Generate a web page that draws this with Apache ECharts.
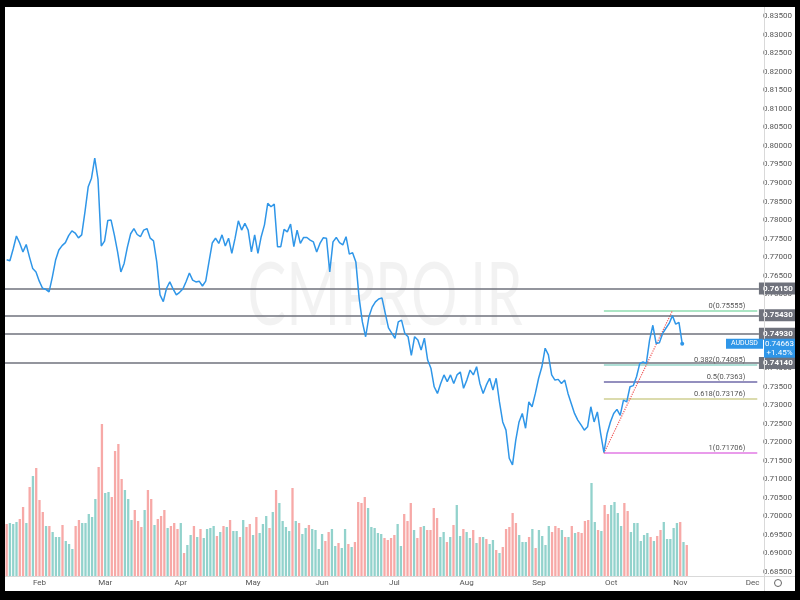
<!DOCTYPE html>
<html><head><meta charset="utf-8">
<script src="https://cdn.jsdelivr.net/npm/echarts@6/dist/echarts.min.js"></script>
<style>
html,body{margin:0;padding:0;background:#000;width:800px;height:600px;overflow:hidden}
#frame{position:absolute;left:5px;top:7px;width:790px;height:584px;background:#fff}
#chart{width:790px;height:584px}
</style></head><body>
<div id="frame"><div id="chart"></div></div>
<script>
// ---------------- DATA ----------------
const symbol = 'AUDUSD';
const startDate = '2021-01-18';   // first daily bar (weekdays only)
const barCount = 231;             // bars on the time axis (through early Dec)
const monthNames = ['Jan','Feb','Mar','Apr','May','Jun','Jul','Aug','Sep','Oct','Nov','Dec'];

const closes = [
0.7693,0.7690,0.7722,0.7757,0.7738,0.7714,0.7734,0.7700,0.7669,0.7660,
0.7635,0.7616,0.7613,0.7606,0.7646,0.7692,0.7719,0.7731,0.7739,0.7758,
0.7771,0.7765,0.7752,0.7760,0.7822,0.7890,0.7913,0.7967,0.7910,0.7730,
0.7743,0.7799,0.7800,0.7760,0.7714,0.7660,0.7683,0.7727,0.7763,0.7777,
0.7761,0.7755,0.7773,0.7777,0.7751,0.7744,0.7687,0.7598,0.7580,0.7616,
0.7633,0.7614,0.7598,0.7605,0.7614,0.7634,0.7657,0.7638,0.7633,0.7635,
0.7622,0.7635,0.7687,0.7738,0.7751,0.7737,0.7760,0.7730,0.7751,0.7710,
0.7751,0.7798,0.7773,0.7791,0.7773,0.7714,0.7760,0.7710,0.7755,0.7787,
0.7845,0.7836,0.7843,0.7728,0.7728,0.7775,0.7768,0.7789,0.7728,0.7773,
0.7737,0.7753,0.7753,0.7746,0.7741,0.7714,0.7737,0.7752,0.7751,0.7660,
0.7741,0.7753,0.7739,0.7733,0.7755,0.7708,0.7712,0.7687,0.7590,0.7525,
0.7485,0.7539,0.7565,0.7579,0.7587,0.7590,0.7549,0.7509,0.7495,0.7481,
0.7525,0.7530,0.7494,0.7485,0.7435,0.7485,0.7476,0.7449,0.7481,0.7422,
0.7400,0.7350,0.7332,0.7359,0.7382,0.7364,0.7382,0.7359,0.7382,0.7390,
0.7346,0.7368,0.7395,0.7382,0.7404,0.7359,0.7332,0.7355,0.7373,0.7341,
0.7373,0.7309,0.7255,0.7233,0.7157,0.7139,0.7206,0.7255,0.7278,0.7238,
0.7309,0.7296,0.7332,0.7373,0.7404,0.7454,0.7436,0.7382,0.7368,0.7370,
0.7359,0.7368,0.7332,0.7305,0.7278,0.7260,0.7247,0.7233,0.7242,0.7296,
0.7255,0.7282,0.7224,0.7173,0.7224,0.7255,0.7278,0.7289,0.7273,0.7314,
0.7309,0.7350,0.7353,0.7377,0.7413,0.7417,0.7413,0.7476,0.7516,0.7467,
0.7469,0.7494,0.7508,0.7521,0.7542,0.7519,0.7524,0.74663
];

const volumes = [
52,53,52,54,57,69,53,89,100,108,
76,64,50,50,44,39,39,51,35,32,
27,50,56,53,53,62,59,77,109,152,
83,84,79,125,132,97,86,77,56,66,
55,49,66,86,77,51,57,60,66,48,
50,53,47,53,23,31,41,50,39,47,
38,47,48,50,40,44,50,49,56,45,
45,39,56,49,52,41,59,43,52,60,
48,64,86,73,55,49,45,88,55,53,
42,48,51,47,46,27,42,35,44,47,
30,33,28,47,32,29,34,74,73,79,
68,49,48,43,42,38,36,38,41,52,
30,62,55,73,46,38,49,50,46,46,
68,58,39,44,34,39,51,71,40,47,
44,38,46,33,39,39,37,32,36,26,
23,29,47,49,63,53,41,34,34,39,
47,28,46,40,31,50,44,50,48,46,
39,39,50,43,44,43,55,56,
93,54,46,45,71,62,71,74,63,50,
73,65,44,53,53,35,41,43,39,35,
40,46,54,37,37,48,53,54,34,31
];

// 1 = up bar (teal), 0 = down bar (red)
const volumeUp = [
0,1,1,1,0,0,1,0,1,0,
0,0,1,0,1,1,1,0,1,1,
1,0,0,1,1,1,1,1,0,0,
1,1,0,0,0,0,1,1,1,0,
0,0,1,0,0,1,0,0,0,1,
0,0,0,1,0,1,1,0,1,0,
1,1,1,1,0,1,0,1,0,1,
1,0,1,0,0,1,0,1,1,1,
0,1,0,1,1,1,1,0,1,0,
1,1,0,1,1,1,1,0,0,1,
1,0,1,1,0,1,0,0,0,0,
1,1,1,1,1,0,0,0,0,1,
1,0,0,0,1,0,0,1,0,0,
0,0,1,1,0,1,0,1,1,0,
1,1,0,1,0,1,0,1,1,0,
1,0,0,0,0,0,1,1,1,0,
1,0,1,1,1,1,0,0,0,1,
0,1,0,1,0,0,0,0,
1,1,0,1,0,0,1,1,1,1,
0,0,1,1,1,1,1,1,0,1,
0,0,1,1,1,1,1,0,1,0
];

const hLevels = [0.7615, 0.7543, 0.7493, 0.7414];
const hLevelLabels = ['0.76150', '0.75430', '0.74930', '0.74140'];

const fibLevels = [0.75555, 0.74085, 0.7363, 0.73176, 0.71706];
const fibLabels = ['0(0.75555)', '0.382(0.74085)', '0.5(0.7363)', '0.618(0.73176)', '1(0.71706)'];
const fibStartBar = 183;          // swing low bar
const trendFrom = [183, 0.71706];
const trendTo = [204, 0.75555];

const lastPrice = 0.74663;
const changeText = '+1.45%';
const hiddenPriceTicks = ['0.75500', '0.75000', '0.74500'];
const watermark = 'CMPRO.IR';

// ---------------- CHART ----------------
const dates = [];
(function () {
  const d = new Date(startDate + 'T00:00:00Z');
  while (dates.length < barCount) {
    const wd = d.getUTCDay();
    if (wd !== 0 && wd !== 6) dates.push(d.toISOString().slice(0, 10));
    d.setUTCDate(d.getUTCDate() + 1);
  }
})();
function isMonthStart(i) {
  return i > 0 && dates[i].slice(5, 7) !== dates[i - 1].slice(5, 7);
}

const FONT = "'Liberation Sans Narrow', Roboto, 'Noto Sans', sans-serif";
const LINE_BLUE = '#2f96e8';
const fibColors = ['#8fdcb0', '#93d4c8', '#6f6aa8', '#cfcf92', '#e27ae4'];
const UP = '#92d2cc', DOWN = '#f7a9a7';
const TAG = '#6f727c';

const W = 790, H = 584;
const axisX = 759, timeY = 569;

const chart = echarts.init(document.getElementById('chart'), null, { renderer: 'canvas' });

const option = {
  animation: false,
  backgroundColor: '#fff',
  textStyle: { fontFamily: FONT },
  grid: [
    { left: 0, right: W - axisX, top: 9.3, bottom: 19 },
    { left: 0, right: W - axisX, top: 369, bottom: H - timeY }
  ],
  xAxis: [
    { type: 'category', gridIndex: 0, data: dates, boundaryGap: true, show: false },
    {
      type: 'category', gridIndex: 1, data: dates, boundaryGap: true,
      axisLine: { show: false }, axisTick: { show: false }, splitLine: { show: false },
      axisLabel: {
        interval: (i) => isMonthStart(i),
        formatter: (v) => monthNames[parseInt(v.slice(5, 7), 10) - 1],
        fontSize: 8, color: '#555', margin: 3, fontFamily: FONT
      }
    }
  ],
  yAxis: [
    {
      type: 'value', gridIndex: 0, position: 'right', min: 0.685, max: 0.835, interval: 0.005,
      axisLine: { show: false }, axisTick: { show: false }, splitLine: { show: false },
      axisLabel: {
        fontSize: 8, color: '#555', margin: 4, fontFamily: FONT,
        formatter: (v) => { const s = v.toFixed(5); return hiddenPriceTicks.includes(s) ? '' : s; }
      }
    },
    { type: 'value', gridIndex: 1, min: 0, max: 200, show: false }
  ],
  series: [
    {
      type: 'bar', xAxisIndex: 1, yAxisIndex: 1, barWidth: '70%', z: 1,
      data: volumes.map((v, i) => ({ value: v, itemStyle: { color: volumeUp[i] ? UP : DOWN } }))
    },
    {
      type: 'line', xAxisIndex: 0, yAxisIndex: 0, data: [], z: 3,
      markLine: {
        silent: true, symbol: ['none', 'none'], animation: false,
        lineStyle: { width: 1.5, type: 'solid' },
        label: { show: true, position: 'insideEndTop', distance: [12, 1], fontSize: 7.5, color: '#555', fontFamily: FONT },
        data: fibLevels.map((v, k) => [
          { coord: [dates[fibStartBar], v], lineStyle: { color: fibColors[k] }, label: { formatter: fibLabels[k] } },
          { coord: [dates[barCount - 1], v] }
        ]).concat([[
          { coord: [dates[trendFrom[0]], trendFrom[1]], lineStyle: { color: '#f05a5a', type: 'dotted', width: 1.2 }, label: { show: false } },
          { coord: [dates[trendTo[0]], trendTo[1]] }
        ]])
      }
    },
    {
      type: 'line', xAxisIndex: 0, yAxisIndex: 0, data: closes, z: 5,
      showSymbol: false, symbol: 'none',
      lineStyle: { color: LINE_BLUE, width: 1.5 },
      itemStyle: { color: LINE_BLUE },
      markLine: {
        silent: true, symbol: ['none', 'none'], animation: false, precision: 5,
        lineStyle: { color: TAG, width: 1.5, type: 'solid' },
        label: {
          show: true, position: 'end', distance: 0, backgroundColor: TAG, color: '#fff',
          fontSize: 8, fontWeight: 'bold', padding: [2, 4, 2, 4], fontFamily: FONT
        },
        data: hLevels.map((v, k) => ({ yAxis: v, label: { formatter: hLevelLabels[k] } }))
      },
      markPoint: {
        silent: true, symbol: 'circle', symbolSize: 4, label: { show: false },
        itemStyle: { color: LINE_BLUE },
        data: [{ coord: [dates[closes.length - 1], lastPrice] }]
      }
    }
  ]
};
chart.setOption(option);

const py = chart.convertToPixel({ yAxisIndex: 0 }, lastPrice);
chart.setOption({
  graphic: [
    { type: 'text', z: 0, silent: true, x: 380, y: 290, scaleX: 0.66,
      style: { text: watermark, font: '400 88px Lato, "Open Sans", sans-serif', fill: 'rgba(0,0,0,0.05)', textAlign: 'center', textVerticalAlign: 'middle' } },
    { type: 'line', z: 50, silent: true, shape: { x1: axisX + 0.5, y1: 0, x2: axisX + 0.5, y2: H }, style: { stroke: '#d9d9d9', lineWidth: 1 } },
    { type: 'line', z: 50, silent: true, shape: { x1: 0, y1: timeY + 0.5, x2: W, y2: timeY + 0.5 }, style: { stroke: '#d9d9d9', lineWidth: 1 } },
    { type: 'circle', z: 50, silent: true, shape: { cx: 773, cy: 576, r: 3.5 }, style: { fill: 'none', stroke: '#666', lineWidth: 1 } },
    { type: 'rect', z: 60, silent: true, shape: { x: 721, y: py - 5, width: 37, height: 10 }, style: { fill: LINE_BLUE } },
    { type: 'text', z: 61, silent: true, x: 739.5, y: py,
      style: { text: symbol, font: '7px ' + FONT, fill: '#fff', textAlign: 'center', textVerticalAlign: 'middle' } },
    { type: 'rect', z: 60, silent: true, shape: { x: axisX, y: py - 5, width: 31, height: 19 }, style: { fill: LINE_BLUE } },
    { type: 'text', z: 61, silent: true, x: axisX + 15.5, y: py,
      style: { text: lastPrice.toFixed(5), font: '8px ' + FONT, fill: '#fff', textAlign: 'center', textVerticalAlign: 'middle' } },
    { type: 'text', z: 61, silent: true, x: axisX + 15.5, y: py + 9,
      style: { text: changeText, font: '8px ' + FONT, fill: '#fff', textAlign: 'center', textVerticalAlign: 'middle' } }
  ]
});
</script>
</body></html>
